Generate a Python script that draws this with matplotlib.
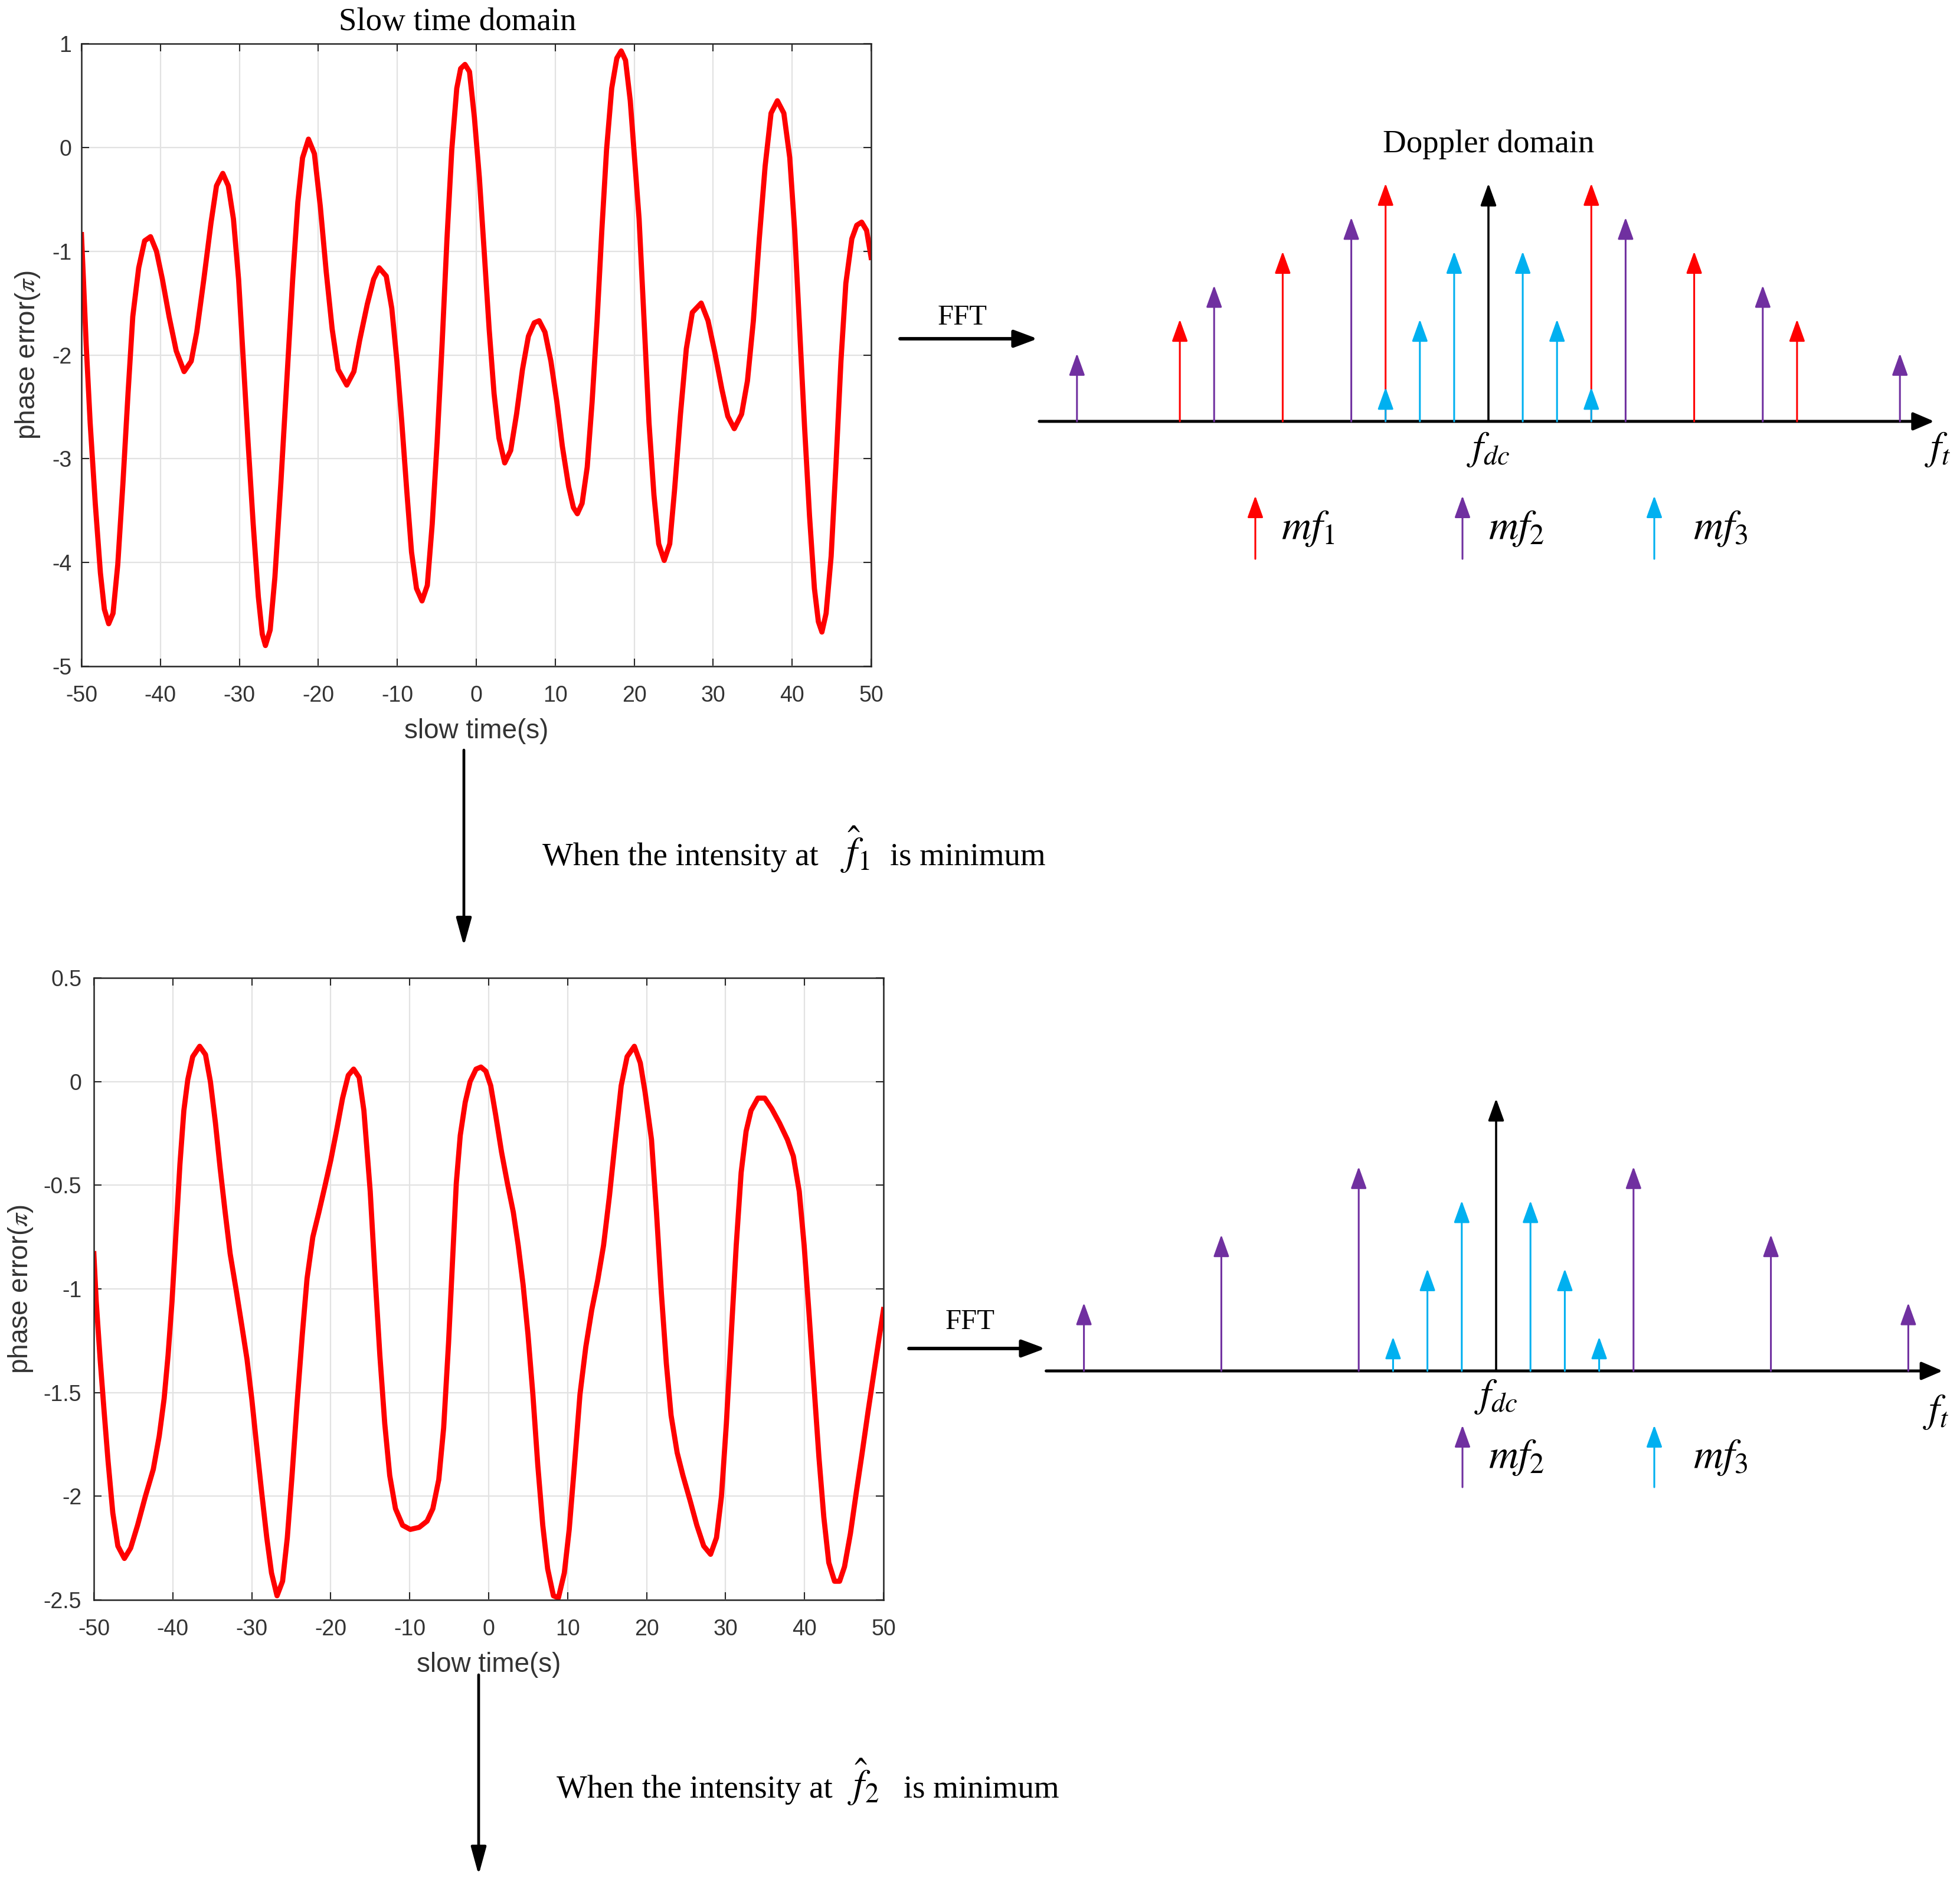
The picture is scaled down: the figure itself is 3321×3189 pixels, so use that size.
import matplotlib
matplotlib.use('Agg')
import matplotlib.pyplot as plt

# figure size in pixels (dpi 100)
W, H = 3321, 3189
DPI = 100

plt.rcParams['font.family'] = ['Liberation Sans', 'DejaVu Sans']
plt.rcParams['mathtext.fontset'] = 'stix'

SERIF = ['Liberation Serif', 'DejaVu Serif']
RED = '#ff0000'
PURPLE = '#7030a0'
CYAN = '#00b0f0'

########################################
# DATA
########################################

# slow time domain, before compensation
top_t = [-50.0, -49.75, -49.4, -48.9, -48.25, -47.6, -47.1, -46.55, -46.0, -45.4,
         -44.75, -44.1, -43.5, -42.75, -42.0, -41.25, -40.5, -39.75, -38.9, -38.0,
         -37.0, -36.1, -35.4, -34.5, -33.6, -32.9, -32.1, -31.4, -30.75, -30.1,
         -29.5, -28.9, -28.25, -27.6, -27.1, -26.7, -26.1, -25.5, -24.75, -24.0,
         -23.25, -22.6, -22.0, -21.25, -20.5, -19.75, -19.0, -18.25, -17.5, -16.4,
         -15.5, -14.77, -13.8, -13.0, -12.3, -11.4, -10.7, -10.05, -9.43, -8.8,
         -8.2, -7.57, -6.87, -6.2, -5.58, -4.96, -4.33, -3.71, -3.1, -2.47,
         -1.98, -1.43, -0.86, -0.24, 0.39, 1.0, 1.63, 2.25, 2.87, 3.6,
         4.36, 5.1, 5.85, 6.6, 7.34, 7.96, 8.7, 9.45, 10.2, 10.9,
         11.7, 12.3, 12.8, 13.4, 14.05, 14.67, 15.3, 15.9, 16.5, 17.15,
         17.8, 18.35, 18.9, 19.5, 20.62, 21.25, 21.87, 22.5, 23.1, 23.8,
         24.5, 25.1, 25.86, 26.6, 27.36, 28.48, 29.35, 30.22, 31.1, 31.85,
         32.67, 33.6, 34.34, 35.09, 35.84, 36.58, 37.33, 38.13, 38.95, 39.7,
         40.32, 40.95, 41.57, 42.2, 42.82, 43.32, 43.77, 44.3, 44.94, 45.56,
         46.18, 46.8, 47.56, 48.18, 48.8, 49.43, 50.0]
top_phase = [-0.84, -1.27, -1.90, -2.65, -3.43, -4.10, -4.45, -4.59, -4.49, -4.02,
             -3.24, -2.37, -1.63, -1.16, -0.90, -0.86, -1.00, -1.27, -1.63, -1.96,
             -2.16, -2.06, -1.78, -1.27, -0.73, -0.37, -0.25, -0.37, -0.69, -1.27,
             -2.06, -2.84, -3.63, -4.33, -4.69, -4.80, -4.65, -4.14, -3.24, -2.25,
             -1.27, -0.53, -0.10, 0.08, -0.06, -0.57, -1.20, -1.75, -2.14, -2.29,
             -2.16, -1.86, -1.51, -1.27, -1.16, -1.24, -1.55, -2.06, -2.65, -3.31,
             -3.90, -4.25, -4.37, -4.22, -3.63, -2.84, -1.90, -0.88, -0.02, 0.57,
             0.76, 0.80, 0.73, 0.29, -0.29, -1.00, -1.75, -2.37, -2.80, -3.04,
             -2.92, -2.57, -2.14, -1.82, -1.69, -1.67, -1.78, -2.06, -2.45, -2.88,
             -3.27, -3.47, -3.53, -3.43, -3.08, -2.45, -1.67, -0.80, -0.02, 0.57,
             0.86, 0.93, 0.84, 0.45, -0.69, -1.67, -2.65, -3.35, -3.82, -3.98,
             -3.82, -3.31, -2.57, -1.94, -1.59, -1.50, -1.67, -1.98, -2.33, -2.59,
             -2.71, -2.57, -2.25, -1.67, -0.88, -0.18, 0.33, 0.45, 0.33, -0.10,
             -0.80, -1.75, -2.69, -3.55, -4.25, -4.57, -4.67, -4.49, -3.94, -3.04,
             -2.06, -1.31, -0.88, -0.75, -0.72, -0.80, -1.06]

# slow time domain, after removing f1
bot_t = [-50.0, -49.7, -49.2, -48.7, -48.2, -47.6, -46.96, -46.13, -45.34, -44.46,
         -43.47, -42.47, -41.72, -41.1, -40.6, -40.1, -39.6, -39.1, -38.6, -38.1,
         -37.48, -36.6, -35.86, -35.24, -34.6, -34.0, -33.37, -32.74, -32.0, -31.25,
         -30.6, -30.0, -29.4, -28.75, -28.1, -27.5, -26.8, -26.1, -25.5, -24.9,
         -24.26, -23.6, -23.0, -22.27, -21.5, -20.77, -20.0, -19.28, -18.5, -17.78,
         -17.1, -16.4, -15.8, -15.0, -14.4, -13.78, -13.16, -12.53, -11.8, -10.9,
         -9.93, -8.8, -7.8, -7.07, -6.32, -5.7, -5.08, -4.58, -4.1, -3.6,
         -2.97, -2.35, -1.6, -0.98, -0.36, 0.26, 0.88, 1.63, 2.37, 3.12,
         3.74, 4.36, 4.98, 5.6, 6.22, 6.85, 7.47, 8.2, 8.83, 9.58,
         10.2, 10.82, 11.56, 12.3, 13.06, 13.8, 14.55, 15.3, 16.04, 16.78,
         17.53, 18.45, 19.2, 19.8, 20.62, 21.25, 21.87, 22.5, 23.1, 23.87,
         24.6, 25.5, 26.36, 27.23, 28.1, 28.85, 29.48, 30.1, 30.72, 31.35,
         31.97, 32.6, 33.22, 34.09, 34.96, 35.83, 36.83, 37.83, 38.58, 39.33,
         39.95, 40.57, 41.2, 41.82, 42.44, 43.07, 43.8, 44.44, 45.06, 45.81,
         46.56, 47.3, 48.05, 48.8, 49.43, 50.0]
bot_phase = [-0.83, -1.06, -1.34, -1.59, -1.83, -2.08, -2.24, -2.30, -2.25, -2.14,
             -2.00, -1.87, -1.71, -1.53, -1.32, -1.06, -0.73, -0.40, -0.14, 0.01,
             0.12, 0.17, 0.13, 0.00, -0.20, -0.42, -0.63, -0.83, -1.00, -1.18,
             -1.34, -1.53, -1.75, -1.98, -2.20, -2.37, -2.48, -2.41, -2.20, -1.90,
             -1.55, -1.22, -0.95, -0.75, -0.63, -0.51, -0.38, -0.24, -0.08, 0.03,
             0.06, 0.02, -0.14, -0.53, -0.93, -1.32, -1.65, -1.90, -2.06, -2.14,
             -2.16, -2.15, -2.12, -2.06, -1.92, -1.67, -1.26, -0.87, -0.49, -0.26,
             -0.10, 0.00, 0.06, 0.07, 0.05, -0.02, -0.16, -0.34, -0.49, -0.63,
             -0.79, -0.98, -1.22, -1.51, -1.85, -2.14, -2.35, -2.48, -2.49, -2.37,
             -2.16, -1.87, -1.51, -1.28, -1.10, -0.96, -0.79, -0.55, -0.28, -0.02,
             0.12, 0.17, 0.09, -0.05, -0.28, -0.63, -1.02, -1.36, -1.61, -1.79,
             -1.90, -2.02, -2.14, -2.24, -2.28, -2.20, -2.00, -1.65, -1.22, -0.79,
             -0.44, -0.24, -0.14, -0.08, -0.08, -0.13, -0.20, -0.28, -0.36, -0.53,
             -0.79, -1.12, -1.47, -1.81, -2.10, -2.32, -2.41, -2.41, -2.34, -2.18,
             -1.98, -1.79, -1.59, -1.40, -1.24, -1.10]

x_ticks = [-50, -40, -30, -20, -10, 0, 10, 20, 30, 40, 50]
x_ticklabels = ['-50', '-40', '-30', '-20', '-10', '0', '10', '20', '30', '40', '50']
top_yticks = [-5, -4, -3, -2, -1, 0, 1]
top_yticklabels = ['-5', '-4', '-3', '-2', '-1', '0', '1']
bot_yticks = [-2.5, -2, -1.5, -1, -0.5, 0, 0.5]
bot_yticklabels = ['-2.5', '-2', '-1.5', '-1', '-0.5', '0', '0.5']

# Doppler domain lines: bin index (relative to f_dc) and relative amplitude
mf1_bins = [-9, -6, -3, 3, 6, 9]
mf1_amp = [3, 5, 7, 7, 5, 3]
mf2_bins = [-12, -8, -4, 4, 8, 12]
mf2_amp = [2, 4, 6, 6, 4, 2]
mf3_bins = [-3, -2, -1, 1, 2, 3]
mf3_amp = [1, 3, 5, 5, 3, 1]
dc_amp_before = 7
dc_amp_after = 8


########################################
# HELPERS
########################################

def px_axes(fig, left, top, right, bottom):
    """Axes placed by pixel box (origin top-left)."""
    return fig.add_axes([left / W, 1 - bottom / H, (right - left) / W, (bottom - top) / H])


def style_plot(ax, yticks, yticklabels, ylim, ypad, xlab_y, ylab_x):
    ax.set_xlim(-50, 50)
    ax.set_ylim(*ylim)
    ax.set_xticks(x_ticks)
    ax.set_xticklabels(x_ticklabels)
    ax.set_yticks(yticks)
    ax.set_yticklabels(yticklabels)
    ax.grid(True, color='#e2e2e2', linewidth=1.6)
    ax.set_axisbelow(True)
    ax.tick_params(direction='in', length=9.5, width=1.5, top=True, right=True,
                   labelsize=27, color='#262626', labelcolor='#333333')
    ax.tick_params(axis='x', pad=23)
    ax.tick_params(axis='y', pad=ypad)
    for sp in ax.spines.values():
        sp.set_color('#262626')
        sp.set_linewidth(1.8)
    ax.set_xlabel('slow time(s)', fontsize=33, color='#333333', va='center')
    ax.xaxis.set_label_coords(0.5, xlab_y)
    ax.set_ylabel(r'phase error($\pi$)', fontsize=33, color='#333333', va='center')
    ax.yaxis.set_label_coords(ylab_x, 0.5)


def stem(ax, x, h, color, ms=23, lw=2.2):
    ax.annotate('', xy=(x, h), xytext=(x, 0),
                arrowprops=dict(arrowstyle='-|>,head_length=1.0,head_width=0.36',
                                mutation_scale=ms, lw=lw, color=color,
                                shrinkA=0, shrinkB=0))


def doppler(fig, box, center_px, base_px, step_px, unit_px, groups, dc_amp,
            dc_lab, ft_lab):
    left, top, right, bottom = box
    ax = px_axes(fig, *box)
    ax.set_xlim((left - center_px) / step_px, (right - center_px) / step_px)
    ax.set_ylim((base_px - bottom) / unit_px, (base_px - top) / unit_px)
    ax.set_axis_off()
    # frequency axis
    ax.annotate('', xy=(13.0, 0), xytext=(-13.1, 0),
                arrowprops=dict(arrowstyle='-|>,head_length=0.7,head_width=0.3',
                                mutation_scale=31, lw=3.6, color='black',
                                shrinkA=0, shrinkB=0))
    stem(ax, 0, dc_amp, 'black', lw=2.6)
    for bins, amps, color in groups:
        for b, a in zip(bins, amps):
            stem(ax, b, a, color)
    ax.text(dc_lab[0], dc_lab[1], r'$f_{dc}$', fontsize=48, ha='center', va='center')
    ax.text(ft_lab[0], ft_lab[1], r'$f_t$', fontsize=48, ha='center', va='center')
    return ax


########################################
# FIGURE
########################################

fig = plt.figure(figsize=(W / DPI, H / DPI), dpi=DPI)

# overlay in pixel coordinates for arrows and captions
ov = fig.add_axes([0, 0, 1, 1])
ov.set_xlim(0, W)
ov.set_ylim(H, 0)
ov.set_axis_off()

# top time-domain plot
ax1 = px_axes(fig, 138, 74, 1476, 1129)
ax1.plot(top_t, top_phase, color=RED, lw=6.3, solid_joinstyle='round')
style_plot(ax1, top_yticks, top_yticklabels, (-5, 1), 12, -0.104, -0.068)

# bottom time-domain plot
ax2 = px_axes(fig, 159, 1657, 1497, 2711)
ax2.plot(bot_t, bot_phase, color=RED, lw=6.3, solid_joinstyle='round')
style_plot(ax2, bot_yticks, bot_yticklabels, (-2.5, 0.5), 15, -0.104, -0.093)

# Doppler domain diagrams
doppler(fig, (1700, 150, 3321, 990), 2522, 714, 58.1, 57.6,
        [(mf1_bins, mf1_amp, RED), (mf2_bins, mf2_amp, PURPLE), (mf3_bins, mf3_amp, CYAN)],
        dc_amp_before, (0, -0.82), (13.1, -0.82))
doppler(fig, (1700, 1750, 3321, 2600), 2535, 2323, 58.2, 57.7,
        [(mf2_bins, mf2_amp, PURPLE), (mf3_bins, mf3_amp, CYAN)],
        dc_amp_after, (0, -0.75), (12.8, -1.2))

# titles
ov.text(775, 51, 'Slow time domain', family=SERIF, fontsize=39.5, ha='center', va='baseline')
ov.text(2522, 258, 'Doppler domain', family=SERIF, fontsize=39.5, ha='center', va='baseline')


def block_arrow(x0, y0, x1, y1, lw=4.2):
    ov.annotate('', xy=(x1, y1), xytext=(x0, y0),
                arrowprops=dict(arrowstyle='-|>,head_length=0.75,head_width=0.28',
                                mutation_scale=32, lw=lw, color='black',
                                shrinkA=0, shrinkB=0))


# FFT arrows
block_arrow(1525, 574, 1758, 574)
ov.text(1631, 550, 'FFT', family=SERIF, fontsize=35, ha='center', va='baseline')
block_arrow(1540, 2285, 1771, 2285)
ov.text(1644, 2252, 'FFT', family=SERIF, fontsize=35, ha='center', va='baseline')

# downward arrows with captions
ov.annotate('', xy=(786, 1603), xytext=(786, 1271),
            arrowprops=dict(arrowstyle='-|>,head_length=0.8,head_width=0.22',
                            mutation_scale=36, lw=3.4, color='black', shrinkA=0, shrinkB=0))
ov.annotate('', xy=(811, 3177), xytext=(811, 2838),
            arrowprops=dict(arrowstyle='-|>,head_length=0.8,head_width=0.22',
                            mutation_scale=36, lw=3.4, color='black', shrinkA=0, shrinkB=0))

ov.text(919, 1466, 'When the intensity at', family=SERIF, fontsize=39.5, ha='left', va='baseline')
ov.text(1449, 1466, r'$\hat{f}_1$', fontsize=48, ha='center', va='baseline')
ov.text(1508, 1466, 'is minimum', family=SERIF, fontsize=39.5, ha='left', va='baseline')

ov.text(943, 3046, 'When the intensity at', family=SERIF, fontsize=39.5, ha='left', va='baseline')
ov.text(1463, 3046, r'$\hat{f}_2$', fontsize=48, ha='center', va='baseline')
ov.text(1531, 3046, 'is minimum', family=SERIF, fontsize=39.5, ha='left', va='baseline')


# legends of the Doppler diagrams
def legend_item(x, y_tail, y_tip, color, label, gap):
    ov.annotate('', xy=(x, y_tip), xytext=(x, y_tail),
                arrowprops=dict(arrowstyle='-|>,head_length=1.0,head_width=0.36',
                                mutation_scale=23, lw=2.2, color=color,
                                shrinkA=0, shrinkB=0))
    ov.text(x + gap, (y_tail + y_tip) / 2 + 2, label, fontsize=50, ha='left', va='center')


legend_item(2127, 947, 840, RED, r'$mf_1$', 44)
legend_item(2478, 947, 840, PURPLE, r'$mf_2$', 44)
legend_item(2803, 947, 840, CYAN, r'$mf_3$', 66)
legend_item(2478, 2520, 2415, PURPLE, r'$mf_2$', 44)
legend_item(2803, 2520, 2415, CYAN, r'$mf_3$', 66)

fig.savefig('out.png', dpi=DPI, facecolor='w')
